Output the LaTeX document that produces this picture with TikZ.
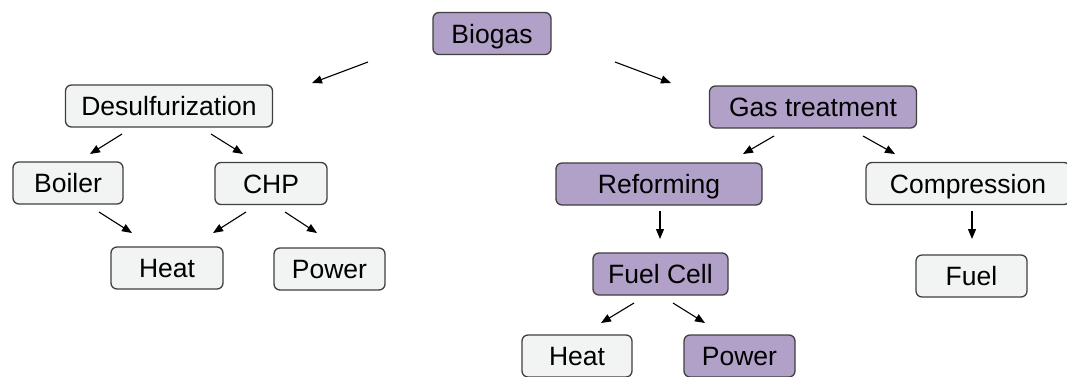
\documentclass[tikz,border=0pt]{standalone}
\usepackage{fontspec}
\setmainfont{Liberation Sans}
\usetikzlibrary{arrows.meta}
\definecolor{boxpurple}{HTML}{B1A0C7}
\definecolor{boxlight}{HTML}{F2F3F3}
\definecolor{boxline}{HTML}{404040}
\tikzset{
  box/.style={draw=boxline, line width=1.3pt, rounded corners=6pt, inner sep=0pt,
    minimum height=42pt, text height=19pt, text depth=0pt,
    font=\fontsize{26.5}{30}\selectfont, anchor=center},
  lightbox/.style={box, fill=boxlight},
  purplebox/.style={box, fill=boxpurple},
  conn/.style={line width=1.1pt, -{Triangle[length=10pt,width=8pt]}}
}
\begin{document}
\begin{tikzpicture}[x=1pt,y=-1pt]
\clip (0,0) rectangle (1067,376);
\fill[white] (0,0) rectangle (1067,376);
% nodes
\node[purplebox, minimum width=118pt] (biogas) at (492,33.5) {Biogas};
\node[lightbox, minimum width=207pt] (desulf) at (169,106) {Desulfurization};
\node[purplebox, minimum width=207pt] (gas) at (813,107) {Gas treatment};
\node[lightbox, minimum width=110pt] (boiler) at (68,183) {Boiler};
\node[lightbox, minimum width=112pt] (chp) at (271,183.5) {CHP};
\node[lightbox, minimum width=112pt] (heatA) at (167,268) {Heat};
\node[lightbox, minimum width=111pt] (powerA) at (329.5,269) {Power};
\node[purplebox, minimum width=206pt] (reform) at (659,184) {Reforming};
\node[lightbox, minimum width=204pt] (compr) at (968,183.5) {Compression};
\node[purplebox, minimum width=135pt] (fuelcell) at (660.5,274) {Fuel Cell};
\node[lightbox, minimum width=111pt] (fuel) at (971.5,276) {Fuel};
\node[lightbox, minimum width=110pt] (heatB) at (577,356) {Heat};
\node[purplebox, minimum width=111pt] (powerB) at (739.5,356) {Power};
% connector end points
\coordinate (bL1) at (368,62);  \coordinate (bL2) at (312,83);
\coordinate (bR1) at (615,62);  \coordinate (bR2) at (671,83);
\coordinate (dL1) at (122,134); \coordinate (dL2) at (90,154);
\coordinate (dR1) at (211,134); \coordinate (dR2) at (243,154);
\coordinate (bo1) at (99,212);  \coordinate (bo2) at (132,233);
\coordinate (cL1) at (246,212); \coordinate (cL2) at (213,233);
\coordinate (cR1) at (285,212); \coordinate (cR2) at (317,233);
\coordinate (gL1) at (774,136); \coordinate (gL2) at (743,154);
\coordinate (gR1) at (863,136); \coordinate (gR2) at (895,154);
\coordinate (r1) at (660,211);  \coordinate (r2) at (660,239);
\coordinate (c1) at (972,211);  \coordinate (c2) at (972,239);
\coordinate (fL1) at (634,303); \coordinate (fL2) at (601,323);
\coordinate (fR1) at (673,303); \coordinate (fR2) at (705,323);
% connectors
\draw[conn] (bL1) -- (bL2);
\draw[conn] (bR1) -- (bR2);
\draw[conn] (dL1) -- (dL2);
\draw[conn] (dR1) -- (dR2);
\draw[conn] (bo1) -- (bo2);
\draw[conn] (cL1) -- (cL2);
\draw[conn] (cR1) -- (cR2);
\draw[conn] (gL1) -- (gL2);
\draw[conn] (gR1) -- (gR2);
\draw[conn] (r1) -- (r2);
\draw[conn] (c1) -- (c2);
\draw[conn] (fL1) -- (fL2);
\draw[conn] (fR1) -- (fR2);
\end{tikzpicture}
\end{document}
